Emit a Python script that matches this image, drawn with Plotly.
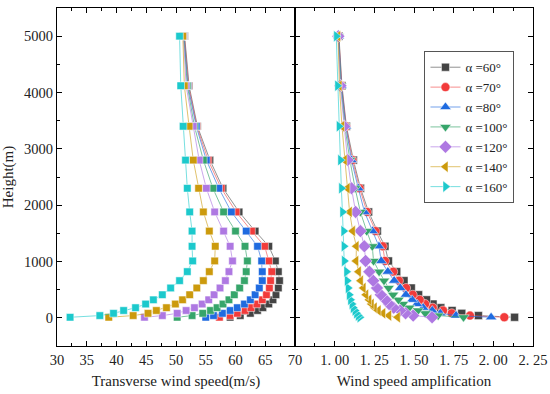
import plotly.graph_objects as go

heights = [10, 40, 80, 130, 180, 245, 320, 410, 530, 660, 820, 1010, 1270, 1540, 1880, 2300, 2800, 3400, 4120, 5000]

labels = ["α =60°", "α =70°", "α =80°", "α =100°", "α =120°", "α =140°", "α =160°"]

speed_60 = [59.1, 60.8, 62.5, 63.7, 64.6, 65.6, 66.3, 66.8, 67.2, 67.4, 67.2, 66.7, 65.6, 63.3, 60.6, 57.9, 55.7, 53.6, 52.2, 51.45]
speed_70 = [57.3, 59.1, 60.3, 61.6, 62.6, 63.6, 64.5, 65.2, 65.7, 65.9, 66.1, 65.6, 64.9, 62.7, 60.1, 57.6, 55.4, 53.5, 52.1, 51.4]
speed_80 = [55.0, 56.3, 57.8, 59.1, 60.3, 61.5, 62.5, 63.3, 64.0, 64.5, 64.5, 64.4, 63.7, 61.8, 59.3, 57.2, 55.1, 53.4, 52.0, 51.35]
speed_100 = [50.2, 52.7, 54.5, 55.8, 56.9, 57.9, 58.9, 59.8, 60.7, 61.5, 61.8, 62.0, 61.6, 60.0, 58.0, 56.2, 54.6, 53.1, 51.9, 51.3]
speed_120 = [44.7, 47.7, 50.2, 51.7, 53.1, 54.4, 55.5, 56.4, 57.4, 58.3, 58.9, 59.5, 59.1, 58.0, 56.5, 55.1, 53.9, 52.9, 51.7, 51.25]
speed_140 = [38.7, 42.8, 45.3, 46.7, 48.4, 49.9, 51.1, 52.3, 53.5, 54.6, 55.6, 56.5, 56.6, 55.6, 54.6, 53.8, 52.9, 52.2, 51.4, 51.15]
speed_160 = [32.2, 37.2, 39.5, 41.2, 43.2, 44.9, 46.2, 47.7, 49.1, 50.6, 51.9, 52.8, 52.7, 52.7, 52.3, 51.9, 51.6, 51.2, 50.8, 50.6]

amp_60 = [2.134, 1.906, 1.801, 1.740, 1.669, 1.620, 1.579, 1.529, 1.483, 1.437, 1.391, 1.339, 1.317, 1.269, 1.214, 1.163, 1.118, 1.074, 1.046, 1.027]
amp_70 = [2.069, 1.853, 1.738, 1.683, 1.618, 1.570, 1.536, 1.492, 1.450, 1.405, 1.369, 1.317, 1.303, 1.257, 1.204, 1.157, 1.112, 1.072, 1.044, 1.026]
amp_80 = [1.986, 1.765, 1.666, 1.615, 1.558, 1.519, 1.488, 1.449, 1.413, 1.375, 1.335, 1.293, 1.279, 1.238, 1.188, 1.149, 1.106, 1.070, 1.042, 1.025]
amp_100 = [1.812, 1.652, 1.571, 1.525, 1.470, 1.430, 1.402, 1.368, 1.340, 1.311, 1.280, 1.245, 1.237, 1.202, 1.162, 1.129, 1.096, 1.064, 1.040, 1.024]
amp_120 = [1.614, 1.495, 1.447, 1.413, 1.372, 1.343, 1.321, 1.291, 1.267, 1.243, 1.219, 1.195, 1.187, 1.162, 1.132, 1.106, 1.082, 1.060, 1.036, 1.023]
amp_140 = [1.397, 1.342, 1.305, 1.276, 1.251, 1.232, 1.217, 1.197, 1.181, 1.164, 1.151, 1.135, 1.137, 1.114, 1.094, 1.080, 1.062, 1.046, 1.030, 1.021]
amp_160 = [1.158, 1.148, 1.137, 1.127, 1.116, 1.108, 1.099, 1.091, 1.084, 1.078, 1.074, 1.060, 1.058, 1.056, 1.049, 1.042, 1.036, 1.027, 1.017, 1.010]

speeds = [speed_60, speed_70, speed_80, speed_100, speed_120, speed_140, speed_160]
amps = [amp_60, amp_70, amp_80, amp_100, amp_120, amp_140, amp_160]

x1_ticks = [30, 35, 40, 45, 50, 55, 60, 65, 70]
x2_ticks = [1.00, 1.25, 1.50, 1.75, 2.00, 2.25]
x2_ticktext = ["1. 00", "1. 25", "1. 50", "1. 75", "2. 00", "2. 25"]
y_ticks = [0, 1000, 2000, 3000, 4000, 5000]

colors = ["#444444", "#F23B3B", "#1F6BE0", "#36A56A", "#AE78E2", "#CC9A0C", "#1CC9CC"]
line_colors = ["rgba(110,110,110,0.75)", "rgba(242,80,80,0.65)", "rgba(40,110,225,0.65)",
               "rgba(54,165,106,0.65)", "rgba(174,120,226,0.65)", "rgba(204,154,12,0.6)",
               "rgba(28,201,204,0.6)"]
symbols = ["square", "circle", "triangle-up", "triangle-down", "diamond", "triangle-left", "triangle-right"]
sizes = [8, 9, 10, 10, 10, 10, 10]

FONT = "Liberation Serif, Times New Roman, serif"

fig = go.Figure()
for i in range(len(labels)):
    fig.add_trace(go.Scatter(
        x=speeds[i], y=heights, mode="lines+markers", xaxis="x", yaxis="y",
        line=dict(color=line_colors[i], width=1),
        marker=dict(symbol="square", size=7.5, color=colors[i], line=dict(color="white", width=0.5)),
        showlegend=False, name=labels[i]))
for i in range(len(labels)):
    fig.add_trace(go.Scatter(
        x=amps[i], y=heights, mode="lines+markers", xaxis="x2", yaxis="y2",
        line=dict(color=line_colors[i], width=1),
        marker=dict(symbol=symbols[i], size=sizes[i], color=colors[i], line=dict(color="white", width=0.5)),
        showlegend=True, name=labels[i]))

axis_common = dict(
    showline=True, linecolor="black", linewidth=1.3, mirror="ticks",
    ticks="inside", ticklen=5, tickwidth=1.2, tickcolor="black",
    showgrid=False, zeroline=False, automargin=False,
    tickfont=dict(family=FONT, size=14.5, color="#222"),
)

fig.update_layout(
    width=550, height=394,
    margin=dict(l=57, r=17, t=8, b=48),
    paper_bgcolor="white", plot_bgcolor="white",
    font=dict(family=FONT, size=14, color="#222"),
    xaxis=dict(domain=[0, 0.5], range=[30, 70], tickvals=x1_ticks,
               minor=dict(dtick=2.5, tick0=30, ticks="inside", ticklen=3, tickcolor="black", showgrid=False),
               title=dict(text="Transverse wind speed(m/s)", font=dict(family=FONT, size=15), standoff=8),
               ticklabeloverflow="allow", anchor="y", **axis_common),
    yaxis=dict(domain=[0, 1], range=[-500, 5500], tickvals=y_ticks,
               minor=dict(dtick=500, tick0=0, ticks="inside", ticklen=3, tickcolor="black", showgrid=False),
               title=dict(text="Height(m)", font=dict(family=FONT, size=15), standoff=6),
               anchor="x", **axis_common),
    xaxis2=dict(domain=[0.5, 1], range=[0.75, 2.25], tickvals=x2_ticks, ticktext=x2_ticktext,
                minor=dict(dtick=0.125, tick0=0.75, ticks="inside", ticklen=3, tickcolor="black", showgrid=False),
                title=dict(text="Wind speed amplification", font=dict(family=FONT, size=15), standoff=8),
                ticklabeloverflow="allow", anchor="y2", **axis_common),
    yaxis2=dict(domain=[0, 1], range=[-500, 5500], tickvals=y_ticks, showticklabels=False,
                minor=dict(dtick=500, tick0=0, ticks="inside", ticklen=3, tickcolor="black", showgrid=False),
                anchor="x2", **axis_common),
    legend=dict(x=0.772, y=0.872, xanchor="left", yanchor="top",
                bgcolor="white", bordercolor="#555", borderwidth=1,
                font=dict(family=FONT, size=13, color="#222"),
                tracegroupgap=0, itemwidth=30),
)

fig.write_html("out.html", config={"displayModeBar": False},
               post_script="document.body.style.margin='0';document.body.style.overflow='hidden';")
